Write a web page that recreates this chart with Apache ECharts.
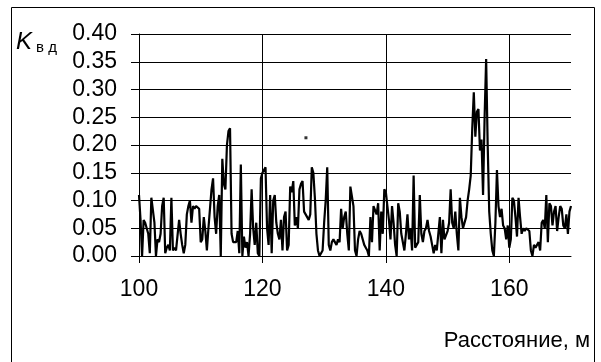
<!DOCTYPE html>
<html>
<head>
<meta charset="utf-8">
<script src="https://cdn.jsdelivr.net/npm/echarts@6/dist/echarts.min.js"></script>
<style>
  html, body { margin: 0; padding: 0; background: #fff; }
  #kvd-chart { width: 601px; height: 362px; }
</style>
</head>
<body>
<div id="kvd-chart"></div>
<script>
// distance along the line, m (start and step of the readings)
var startDist = 100;
var stepDist = 0.25;

// K_vd readings, one every 0.25 m, 100 .. 170 m
var kvdValues = [
    0.11, 0.065, 0.0, 0.065,   0.06, 0.05, 0.04, 0.005,
    0.105, 0.108, 0.06, 0.0,   0.03, 0.025, 0.04, 0.09,
    0.105, 0.005, 0.015, 0.02, 0.01, 0.105, 0.01, 0.015,
    0.01, 0.01, 0.065, 0.04,   0.02, 0.005, 0.02, 0.075,
    0.09, 0.1, 0.06, 0.09,     0.085, 0.09, 0.09, 0.085,
    0.025, 0.03, 0.07, 0.045,  0.01, 0.05, 0.085, 0.12,
    0.14, 0.07, 0.04, 0.09,    0.11, 0.0, 0.175, 0.13,
    0.12, 0.2, 0.225, 0.23,    0.04, 0.025, 0.025, 0.025,
    0.045, 0.005, 0.165, 0.0,  0.035, 0.015, 0.025, 0.0,
    0.04, 0.12, 0.05, 0.02,    0.06, 0.005, 0.0, 0.14,
    0.15, 0.155, 0.16, 0.05,   0.02, 0.11, 0.005, 0.1,
    0.11, 0.06, 0.04, 0.03,    0.065, 0.01, 0.07, 0.08,
    0.01, 0.02, 0.125, 0.115,  0.135, 0.055, 0.07, 0.05,
    0.12, 0.13, 0.135, 0.08,   0.075, 0.07, 0.065, 0.075,
    0.16, 0.15, 0.105, 0.04,   0.01, 0.0, 0.005, 0.01,
    0.06, 0.1, 0.16, 0.02,     0.01, 0.025, 0.03, 0.025,
    0.02, 0.03, 0.025, 0.085,  0.05, 0.07, 0.08, 0.04,
    0.01, 0.125, 0.125, 0.09,  0.01, 0.0, 0.03, 0.045,
    0.04, 0.03, 0.02, 0.015,   0.01, 0.0, 0.07, 0.025,
    0.09, 0.09, 0.075, 0.095,  0.01, 0.08, 0.04, 0.12,
    0.115, 0.09, 0.065, 0.03,  0.09, 0.06, 0.02, 0.0,
    0.095, 0.08, 0.04, 0.04,   0.01, 0.04, 0.075, 0.03,
    0.05, 0.01, 0.145, 0.015,  0.02, 0.025, 0.11, 0.04,
    0.025, 0.045, 0.05, 0.065, 0.045, 0.035, 0.02, 0.005,
    0.02, 0.01, 0.04, 0.07,    0.005, 0.065, 0.03, 0.03,
    0.045, 0.06, 0.12, 0.06,   0.05, 0.08, 0.04, 0.01,
    0.105, 0.07, 0.05, 0.05,   0.07, 0.1, 0.12, 0.145,
    0.23, 0.295, 0.215, 0.26,  0.265, 0.19, 0.21, 0.11,
    0.25, 0.355, 0.2, 0.08,    0.04, 0.01, 0.0, 0.06,
    0.155, 0.09, 0.07, 0.085,  0.055, 0.05, 0.03, 0.055,
    0.015, 0.03, 0.105, 0.1,   0.07, 0.035, 0.105, 0.07,
    0.04, 0.05, 0.045, 0.05,   0.05, 0.045, 0.01, 0.0,
    0.02, 0.015, 0.02, 0.025,  0.01, 0.06, 0.065, 0.05,
    0.11, 0.025, 0.095, 0.09,  0.055, 0.08, 0.09, 0.045,
    0.07, 0.09, 0.085, 0.055,  0.05, 0.075, 0.04, 0.08,
    0.09
];

// stray single point on the plot
var strayPoint = [[127.05, 0.213]];

var xTicks = [100, 120, 140, 160];
var xMin = 100, xMax = 170;
var yMin = 0, yMax = 0.4, yStep = 0.05;

function kvdChart() {
    var chart = echarts.init(document.getElementById('kvd-chart'));

    var lineData = kvdValues.map(function (v, i) {
        return [startDist + i * stepDist, v];
    });

    var font = 'Arial, "Liberation Sans", sans-serif';

    var option = {
        animation: false,
        backgroundColor: '#fff',
        grid: { left: 139, top: 34, right: 30, bottom: 106, containLabel: false },
        xAxis: {
            type: 'value',
            min: xMin,
            max: xMax,
            interval: 20,
            axisLine: { show: true, onZero: false, lineStyle: { color: '#000', width: 1 } },
            axisTick: { show: true, inside: false, length: 7, customValues: xTicks, lineStyle: { color: '#000' } },
            axisLabel: {
                customValues: xTicks,
                color: '#000', fontSize: 23, fontFamily: font, margin: 22
            },
            splitLine: { show: true, lineStyle: { color: '#000', width: 1 } }
        },
        yAxis: {
            type: 'value',
            min: yMin,
            max: yMax,
            interval: yStep,
            axisLine: { show: true, lineStyle: { color: '#000', width: 1 } },
            axisTick: { show: true, inside: false, length: 8, lineStyle: { color: '#000' } },
            axisLabel: {
                color: '#000', fontSize: 23, fontFamily: font, margin: 22,
                formatter: function (v) { return v.toFixed(2); }
            },
            splitLine: { show: true, lineStyle: { color: '#000', width: 1 } }
        },
        series: [
            {
                type: 'line',
                data: lineData,
                showSymbol: false,
                lineStyle: { color: '#000', width: 2.2 },
                clip: true
            },
            {
                type: 'scatter',
                data: strayPoint,
                symbol: 'rect',
                symbolSize: 3,
                itemStyle: { color: '#000' }
            }
        ],
        graphic: [
            {
                type: 'rect',
                shape: { x: 11.5, y: 7.5, width: 583, height: 370 },
                style: { fill: 'none', stroke: '#000', lineWidth: 1 },
                z: 0
            },
            {
                type: 'text',
                x: 16, y: 42,
                style: { text: 'K', fontSize: 24, fontStyle: 'italic', fontFamily: font, fill: '#000', verticalAlign: 'middle' }
            },
            {
                type: 'text',
                x: 36, y: 48,
                style: { text: 'в д', fontSize: 15, fontFamily: font, fill: '#000', verticalAlign: 'middle' }
            },
            {
                type: 'text',
                x: 590, y: 341,
                style: { text: 'Расстояние, м', fontSize: 22, fontFamily: font, fill: '#000', align: 'right', verticalAlign: 'middle' }
            }
        ]
    };

    option && chart.setOption(option);
}

kvdChart();
</script>
</body>
</html>
